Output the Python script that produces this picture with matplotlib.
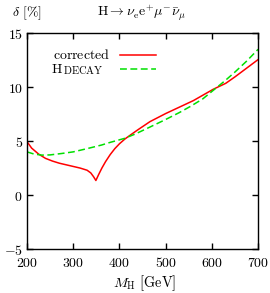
import matplotlib

matplotlib.use('Agg')
import numpy as np
import matplotlib.pyplot as plt
from matplotlib.ticker import FuncFormatter, MultipleLocator

plt.rcParams['mathtext.fontset'] = 'cm'
plt.rcParams['font.family'] = 'serif'
plt.rcParams['font.serif'] = ['DejaVu Serif']

# corrected result (red)
mh_corr = [200, 210, 225, 240, 255, 270, 285, 300, 315, 330, 338, 344, 349,
           355, 362, 370, 380, 390, 400, 412, 425, 440, 466, 500, 530, 560,
           603, 630, 650, 675, 700]
delta_corr = [4.95, 4.35, 3.8, 3.4, 3.15, 2.95, 2.8, 2.65, 2.5, 2.3, 2.05, 1.7, 1.35,
              1.9, 2.5, 3.1, 3.75, 4.3, 4.75, 5.2, 5.6, 6.05, 6.8, 7.55, 8.15, 8.75,
              9.8, 10.35, 10.95, 11.75, 12.55]

# HDECAY (green dashed)
mh_hdec = [200, 215, 232, 250, 275, 300, 330, 361, 380, 411, 434, 466, 500,
           530, 553, 580, 603, 630, 650, 675, 700]
delta_hdec = [4.0, 3.8, 3.7, 3.72, 3.85, 4.0, 4.3, 4.63, 4.88, 5.25, 5.65, 6.3, 7.0,
              7.65, 8.2, 8.9, 9.7, 10.65, 11.4, 12.4, 13.5]

fig = plt.figure(figsize=(2.70, 2.93), dpi=100)
ax = fig.add_axes([0.1, 0.150, 0.856, 0.737])

ax.plot(mh_corr, delta_corr, color='#ff0000', lw=1.1)
ax.plot(mh_hdec, delta_hdec, color='#00e000', lw=1.1, dashes=(4.5, 2.3))

ax.set_xlim(200, 700)
ax.set_ylim(-5, 15)
ax.xaxis.set_major_locator(MultipleLocator(100))
ax.yaxis.set_major_locator(MultipleLocator(5))
fmt = FuncFormatter(lambda v, p: r'$%d$' % v)
ax.xaxis.set_major_formatter(fmt)
ax.yaxis.set_major_formatter(fmt)
ax.tick_params(direction='in', top=True, right=True, length=4, width=1.0,
               labelsize=10)
ax.tick_params(axis='x', pad=5)
ax.tick_params(axis='y', pad=3)
for s in ax.spines.values():
    s.set_linewidth(1.0)

# legend drawn by hand
ax.text(0.36, 0.898, r'$\mathrm{corrected}$', transform=ax.transAxes,
        ha='right', va='center', fontsize=10)
ax.plot([0.403, 0.558], [0.898, 0.898], transform=ax.transAxes,
        color='#ff0000', lw=1.1)
ax.text(0.156, 0.833, r'$\mathrm{H}$', transform=ax.transAxes,
        ha='right', va='center', fontsize=10)
ax.text(0.156, 0.828, r'$\mathrm{DECAY}$', transform=ax.transAxes,
        ha='left', va='center', fontsize=7.6)
ax.plot([0.403, 0.558], [0.833, 0.833], transform=ax.transAxes,
        color='#00e000', lw=1.1, dashes=(4.5, 2.3))

fig.text(0.044, 0.955, r'$\delta\ [\%]$', ha='left', va='center', fontsize=10)
fig.text(0.524, 0.955, r'$\mathrm{H}\rightarrow\nu_{\mathrm{e}}\mathrm{e}^{+}\mu^{-}\bar{\nu}_{\mu}$',
         ha='center', va='center', fontsize=10)
fig.text(0.535, 0.034, r'$M_{\mathrm{H}}\ [\mathrm{GeV}]$', ha='center',
         va='center', fontsize=10.3)

fig.savefig('out.png', dpi=100)
